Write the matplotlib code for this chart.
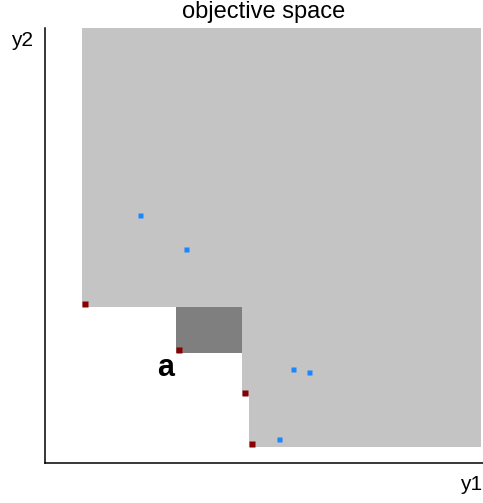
import numpy as np
import matplotlib
matplotlib.use("Agg")
import matplotlib.pyplot as plt
from matplotlib.path import Path

plt.rcParams['font.family'] = ['Liberation Sans', 'DejaVu Sans']

# non-dominated front (y1, y2)
front_y1 = [0.84, 2.99, 4.50, 4.66]
front_y2 = [3.59, 2.53, 1.54, 0.37]
# dominated solutions
other_y1 = [2.18, 3.21, 5.66, 6.03, 5.34]
other_y2 = [5.69, 4.91, 2.15, 2.10, 0.55]
# reference point bounding the hypervolume
ref_point = (9.95, 10.0)
# index of the point whose exclusive contribution is highlighted
highlight = 1
highlight_label = "a"

fig = plt.figure(figsize=(4.83, 5.03), dpi=100)
W, H = 483, 503
ax = fig.add_axes([45 / W, 40 / H, 438 / W, 435 / H])
ax.set_xlim(0, 10)
ax.set_ylim(0, 10)

# staircase outline of the dominated region
verts = [(front_y1[0], ref_point[1]), (front_y1[0], front_y2[0])]
for i in range(1, len(front_y1)):
    verts.append((front_y1[i], front_y2[i - 1]))
    verts.append((front_y1[i], front_y2[i]))
verts.append((ref_point[0], front_y2[-1]))
verts.append(ref_point)
xs, ys = zip(*verts)
ax.fill(xs, ys, color="#c4c4c4", lw=0, zorder=1)

# exclusive contribution of one front point
h = highlight
ax.fill_between([front_y1[h], front_y1[h + 1]], front_y2[h], front_y2[h - 1],
                color="#7f7f7f", lw=0, zorder=2)
ax.text(front_y1[h] - 0.23, front_y2[h] - 0.35, highlight_label,
        fontsize=22, fontweight="bold", ha="center", va="center", zorder=3)

# square marker anchored at its lower-left corner
corner_sq = Path([(0, 0), (1, 0), (1, 1), (0, 1), (0, 0)],
                 [Path.MOVETO, Path.LINETO, Path.LINETO, Path.LINETO, Path.CLOSEPOLY])
ax.plot(front_y1, front_y2, ls="none", marker=corner_sq, ms=8.6,
        mfc="#880000", mec="none", zorder=4)
ax.plot(other_y1, other_y2, ls="none", marker="s", ms=3.6,
        mfc="#1a86ff", mec="none", zorder=4)

for side in ("top", "right"):
    ax.spines[side].set_visible(False)
for side in ("left", "bottom"):
    ax.spines[side].set_linewidth(1.1)
ax.set_xticks([])
ax.set_yticks([])

fig.text(264 / W, 1 - 12 / H, "objective space", fontsize=17, ha="center", va="center")
fig.text(22 / W, 1 - 40 / H, "y2", fontsize=15, ha="center", va="center")
fig.text(471 / W, 1 - 485 / H, "y1", fontsize=15, ha="center", va="center")

fig.savefig("out.png", dpi=100)
